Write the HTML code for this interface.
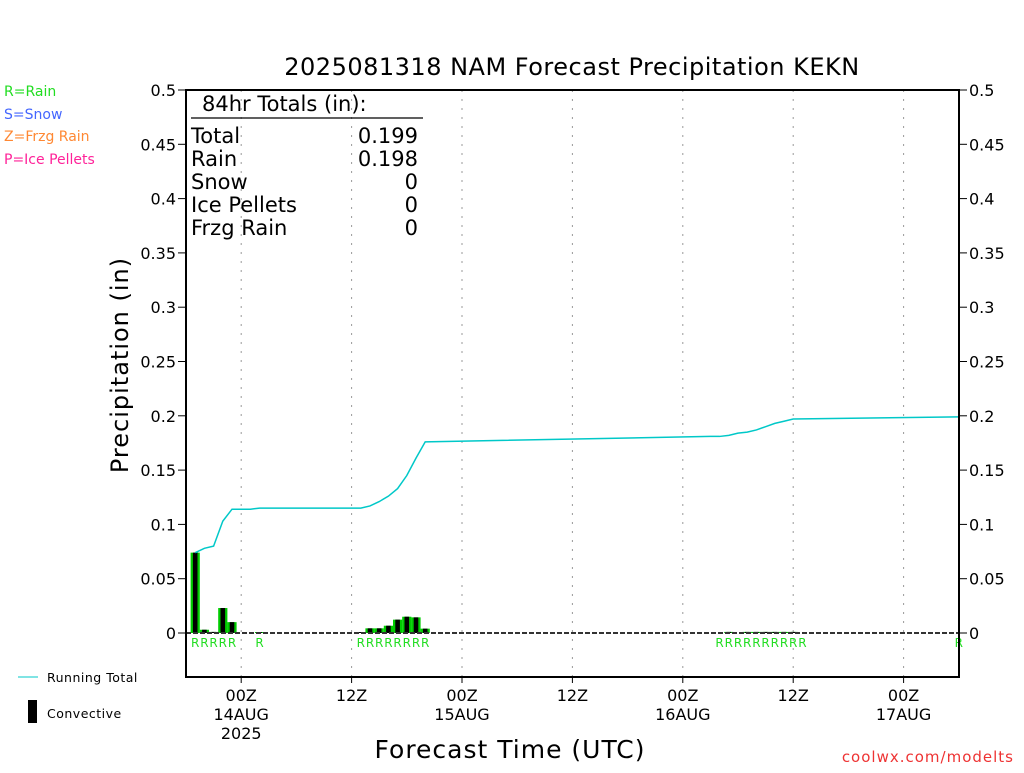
<!DOCTYPE html>
<html><head><meta charset="utf-8"><style>
body{margin:0;background:#fff;}
svg text{font-family:"DejaVu Sans","Liberation Sans",sans-serif;}
</style></head><body>
<svg id="c" width="1024" height="768" xmlns="http://www.w3.org/2000/svg">
<rect width="1024" height="768" fill="#fff"/>
<text x="572" y="75" font-size="24" text-anchor="middle" letter-spacing="0.5">2025081318 NAM Forecast Precipitation KEKN</text>
<text x="4" y="96" font-size="14" fill="#22dd22">R=Rain</text>
<text x="4" y="119" font-size="14" fill="#4466ff">S=Snow</text>
<text x="4" y="141" font-size="14" fill="#ff8833">Z=Frzg Rain</text>
<text x="4" y="164" font-size="14" fill="#ff2299">P=Ice Pellets</text>
<line x1="18" y1="677" x2="38" y2="677" stroke="#00c8c8" stroke-width="1"/>
<text x="47" y="682" font-size="12.5" letter-spacing="0.5">Running Total</text>
<rect x="28" y="700" width="9" height="23" fill="#000"/>
<text x="47" y="718" font-size="12.5" letter-spacing="0.5">Convective</text>
<text x="128" y="365" font-size="24" text-anchor="middle" transform="rotate(-90 128 365)" letter-spacing="1">Precipitation (in)</text>
<text x="510" y="758" font-size="25" text-anchor="middle" letter-spacing="1">Forecast Time (UTC)</text>
<text x="1014" y="762" font-size="15" fill="#ee3333" text-anchor="end" letter-spacing="1">coolwx.com/modelts</text>
<g id="plot"></g>
<g font-size="21" font-family="DejaVu Sans">
<text x="202" y="111">84hr Totals (in):</text>
<line x1="191" y1="118" x2="423" y2="118" stroke="#000" stroke-width="1.2"/>
<text x="191" y="143">Total</text><text x="418" y="143" text-anchor="end">0.199</text>
<text x="191" y="166">Rain</text><text x="418" y="166" text-anchor="end">0.198</text>
<text x="191" y="189">Snow</text><text x="418" y="189" text-anchor="end">0</text>
<text x="191" y="212">Ice Pellets</text><text x="418" y="212" text-anchor="end">0</text>
<text x="191" y="235">Frzg Rain</text><text x="418" y="235" text-anchor="end">0</text>
</g>
</svg>
<script>
const yTicks=[0,0.05,0.1,0.15,0.2,0.25,0.3,0.35,0.4,0.45,0.5];
const yTickLabels=["0","0.05","0.1","0.15","0.2","0.25","0.3","0.35","0.4","0.45","0.5"];
const xTickHours=[6,18,30,42,54,66,78];
const xTickLabels=[["00Z","14AUG","2025"],["12Z"],["00Z","15AUG"],["12Z"],["00Z","16AUG"],["12Z"],["00Z","17AUG"]];
const barHours=[1,2,3,4,5,8,19,20,21,22,23,24,25,26,59,61,62,63,64,65,66];
const barValues=[0.074,0.003,0.001,0.023,0.010,0.0002,0.0005,0.0043,0.0043,0.0067,0.0123,0.015,0.0144,0.004,0.001,0.001,0.001,0.001,0.001,0.001,0.001];
const lineHours=[1,2,3,4,5,7,8,19,20,21,22,23,24,25,26,57,58,59,60,61,62,63,64,65,66,84];
const lineValues=[0.074,0.078,0.080,0.103,0.114,0.114,0.115,0.115,0.117,0.121,0.126,0.133,0.145,0.161,0.176,0.181,0.181,0.182,0.184,0.185,0.187,0.190,0.193,0.195,0.197,0.198,0.199].slice(0,26);
const rainLabelHours=[1,2,3,4,5,8,19,20,21,22,23,24,25,26,58,59,60,61,62,63,64,65,66,67,84];
lineValues[lineValues.length-1]=0.199;
const L=186,R=959,T=90,B=677,Y0=633,PX=9.2;
const X=h=>L+h*PX, Y=v=>Y0-v*1086;
const ns="http://www.w3.org/2000/svg", g=document.getElementById('plot');
function mk(t,a){const e=document.createElementNS(ns,t);for(const k in a)e.setAttribute(k,a[k]);g.appendChild(e);return e;}
xTickHours.forEach((h,i)=>{
 const l=mk('line',{x1:X(h),x2:X(h),y1:T,y2:B,stroke:'#999','stroke-dasharray':'2,7'});
 
 
 const tk=mk('line',{x1:X(h),x2:X(h),y1:B,y2:B+6,stroke:'#000'});
 
 
 xTickLabels[i].forEach((s,j)=>{const t=mk('text',{x:X(h),y:B+24+j*19,'font-size':16,'text-anchor':'middle'});t.textContent=s;
 
 });
});
yTicks.forEach((v,i)=>{
 [[L-8,L],[R,R+8]].forEach(([a,b],k)=>{const l=mk('line',{x1:a,x2:b,y1:Y(v),y2:Y(v),stroke:'#000'});
 
 });
 const t1=mk('text',{x:L-10,y:Y(v)+6,'font-size':16,'text-anchor':'end'});t1.textContent=yTickLabels[i];
 
 
 const t2=mk('text',{x:R+10,y:Y(v)+6,'font-size':16});t2.textContent=yTickLabels[i];
 
 
});
barHours.forEach((h,i)=>{
 const v=barValues[i],hgt=Math.max(1,Y0-Y(v));
 const b=mk('rect',{x:X(h-0.5),y:Y0-hgt,width:PX,height:hgt,fill:'#00cc00'});
 
 
 const c=mk('rect',{x:X(h)-2.3,y:Y0-hgt,width:4.6,height:hgt,fill:'#000'});
 
 
});
const zl=mk('line',{x1:L,x2:R,y1:Y0,y2:Y0,stroke:'#333','stroke-width':2,'stroke-dasharray':'5,2'});


const pl=mk('polyline',{points:lineHours.map((h,i)=>X(h)+','+Y(lineValues[i])).join(' '),fill:'none',stroke:'#00c8c8','stroke-width':1.5});


rainLabelHours.forEach(h=>{const t=mk('text',{x:X(h),y:647,'font-size':12,fill:'#22dd22','text-anchor':'middle'});t.textContent='R';
 
 });
const fr=mk('rect',{x:L,y:T,width:R-L,height:B-T,fill:'none',stroke:'#000','stroke-width':2});


</script>
</body></html>
